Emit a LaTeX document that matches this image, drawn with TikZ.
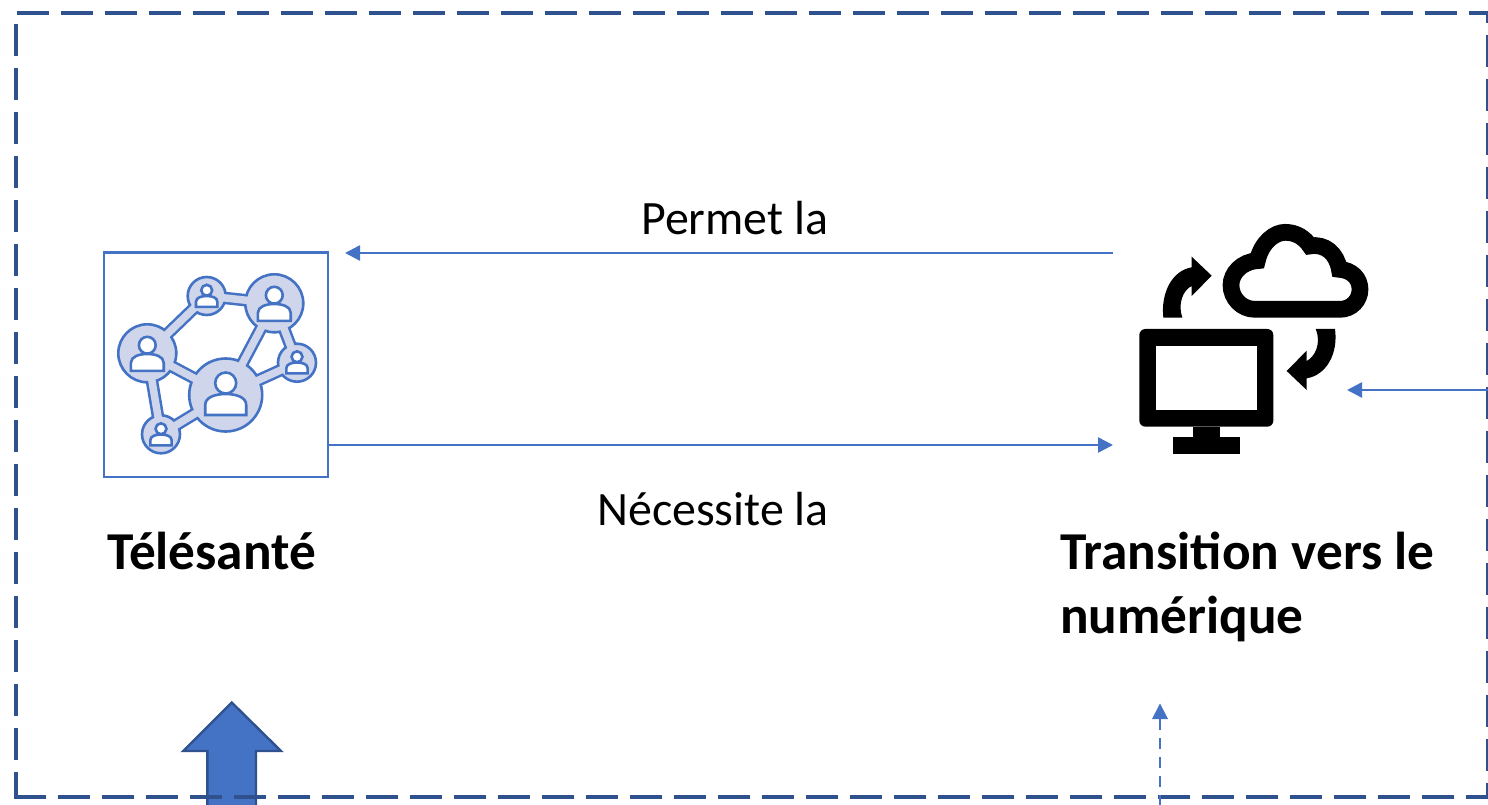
\documentclass[tikz,border=0pt]{standalone}
\usepackage{fontspec}
\setmainfont{Carlito}
\usetikzlibrary{arrows.meta}
\definecolor{bl}{HTML}{4472C4}
\definecolor{dk}{HTML}{2F528F}
\definecolor{lt}{HTML}{CFD5EA}
\tikzset{
  flow/.style={draw=bl,line width=2.5pt,-{Triangle[length=15pt,width=15pt]}},
  edgedash/.style={draw=dk,line width=4pt,dash pattern=on 32pt off 12pt},
  lab/.style={font=\fontsize{47.9}{56}\selectfont,anchor=base west,inner sep=0pt},
  head/.style={font=\fontsize{53.3}{64}\selectfont\bfseries,anchor=base west,inner sep=0pt},
  hub/.style={circle,draw=bl,fill=lt,line width=2.6pt,inner sep=0pt},
  band/.style={draw=bl,line width=12.5pt},
  bandin/.style={draw=lt,line width=7.5pt},
  pic1/.style={draw=bl,fill=white,line width=2.6pt}
}
\newcommand{\person}[3]{%
 \begin{scope}[shift={(#1,#2)},scale=#3]
  \draw[pic1] (0,-11) circle (10.5);
  \draw[pic1] (-20.5,21) -- (-20.5,11) .. controls (-20.5,3) and (-10,0) .. (0,0) .. controls (10,0) and (20.5,3) .. (20.5,11) -- (20.5,21) -- cycle;
 \end{scope}}
\begin{document}
\begin{tikzpicture}[x=1pt,y=-1pt]
\useasboundingbox (0,0) rectangle (1488,805);
\begin{scope}
\clip (0,0) rectangle (1488,805);
% block arrow
\draw[fill=bl,draw=dk,line width=2.4pt,line join=miter] (231.7,702.5) -- (281,751) -- (256,751) -- (256,815) -- (207.3,815) -- (207.3,751) -- (183.3,751) -- cycle;
% dashed frame
\draw[edgedash] (17,13) -- (1488,13);
\draw[edgedash,dash phase=20pt] (1488,11) -- (1488,797);
\draw[edgedash] (14,797) -- (1488,797);
\draw[edgedash] (16,23.7) -- (16,799);
\end{scope}
% Télésanté box
\node[draw=bl,line width=2.4pt,minimum width=224.5pt,minimum height=224.5pt,inner sep=0pt] (tele) at (216,364.8) {};
% network links
\coordinate (nA) at (225.7,395);
\coordinate (nB) at (147.3,353.3);
\coordinate (nC) at (206.7,296);
\coordinate (nD) at (274.3,303.3);
\coordinate (nE) at (297,362.7);
\coordinate (nF) at (161,434.3);
\foreach \a/\b in {nB/nC,nC/nD,nD/nA,nD/nE,nA/nE,nA/nB,nB/nF,nF/nA}{\draw[band] (\a) -- (\b);}
\node[hub,minimum size=73pt] at (nA) {};
\node[hub,minimum size=58pt] at (nB) {};
\node[hub,minimum size=38pt] at (nC) {};
\node[hub,minimum size=58pt] at (nD) {};
\node[hub,minimum size=38pt] at (nE) {};
\node[hub,minimum size=38pt] at (nF) {};
\foreach \a/\b in {nB/nC,nC/nD,nD/nA,nD/nE,nA/nE,nA/nB,nB/nF,nF/nA}{\draw[bandin] (\a) -- (\b);}
\person{225.7}{394}{1}
\person{147.3}{354}{0.8}
\person{206.7}{296}{0.52}
\person{274.3}{304}{0.8}
\person{297}{362.5}{0.52}
\person{161}{434.5}{0.52}
% digital icon
\begin{scope}[shift={(1120,210)},scale=1/3]
 \fill[black,rounded corners=6pt] (58,357) rectangle (460,650);
 \fill[white] (108,407) rectangle (410,600);
 \fill[black] (218,650) rectangle (300,682);
 \fill[black] (158,682) rectangle (360,733);
 \draw[black,line width=16.7pt,line join=miter] (405,298) .. controls (365,298) and (333,265) .. (333,225) .. controls (333,190) and (365,155) .. (412,152) .. controls (425,95) and (465,67) .. (495,67) .. controls (530,67) and (555,85) .. (570,108) .. controls (615,100) and (650,130) .. (658,178) .. controls (695,180) and (720,205) .. (720,238) .. controls (720,270) and (695,298) .. (660,298) -- cycle;
 \fill[black] (130,323) .. controls (122,250) and (155,182) .. (215,172) -- (215,140) -- (275,197) -- (215,258) -- (215,228) .. controls (190,240) and (172,280) .. (187,323) -- cycle;
 \fill[black] (645,357) .. controls (655,430) and (620,495) .. (560,505) -- (560,540) -- (500,483) -- (560,422) -- (560,453) .. controls (585,440) and (605,400) .. (587,357) -- cycle;
\end{scope}
% anchors
\coordinate (numA) at (1113,253);
\coordinate (teleA) at (345,253);
\coordinate (numB) at (1113,445);
\coordinate (edgeR) at (1488,390);
\coordinate (numR) at (1347,390);
\coordinate (low) at (1160,805);
\coordinate (numL) at (1160,703.5);
\draw[flow] (numA) -- (teleA);
\draw[flow] (tele.east |- numB) -- (numB);
\draw[flow] (edgeR) -- (numR);
\draw[draw=bl,line width=2.4pt,dash pattern=on 11pt off 8pt] (1160,719) -- (low);
\path[fill=bl] (numL) -- (1168,719) -- (1152,719) -- cycle;
% labels
\node[lab] (t1) at (641,234.5) {Permet la};
\node[lab] (t2) at (597,525) {Nécessite la};
\node[head] (t3) at (107,569.5) {Télésanté};
\node[head] (t4) at (1060,569.5) {Transition vers le};
\node[head] (t5) at (1060,633.5) {numérique};
\end{tikzpicture}
\end{document}
